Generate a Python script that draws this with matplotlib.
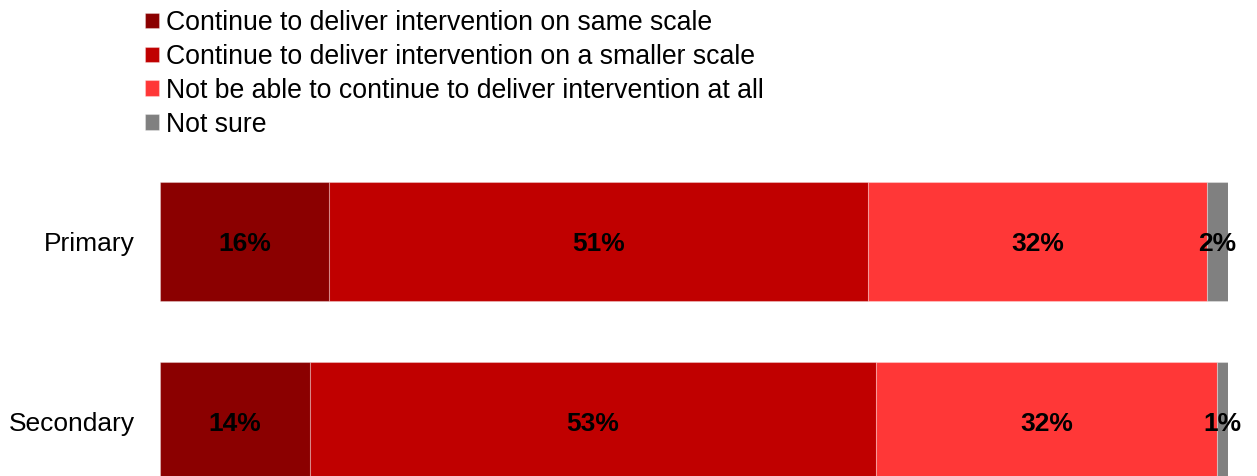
import numpy as np
import matplotlib.pyplot as plt

plt.rcParams['font.family'] = ['Liberation Sans', 'DejaVu Sans']

groups = ["Primary", "Secondary"]
answers = ["Continue to deliver intervention on same scale",
           "Continue to deliver intervention on a smaller scale",
           "Not be able to continue to deliver intervention at all",
           "Not sure"]
# percent of schools giving each answer
same_scale = [16, 14]
smaller_scale = [51, 53]
stop_entirely = [32, 32]
not_sure = [2, 1]
colours = ["#8B0000", "#C00000", "#FF3737", "#808080"]


def main():
	series = np.array([same_scale, smaller_scale, stop_entirely, not_sure], dtype=float)
	shares = series / series.sum(axis=0) * 100  # stack each bar to 100%

	fig = plt.figure(figsize=(12.57, 4.76), dpi=100)
	ax = fig.add_axes([0.1273, -0.0746, 0.8496, 0.7563])

	y = np.arange(len(groups))
	left = np.zeros(len(groups))
	for i in range(len(answers)):
		bars = ax.barh(y, shares[i], left=left, height=0.66, color=colours[i],
					   edgecolor=(1, 1, 1, 0.3), linewidth=0.8, label=answers[i])
		texts = ax.bar_label(bars, labels=["%d%%" % v for v in series[i]], label_type="center",
							 fontsize=19, fontweight="bold", color="black")
		for t in texts:
			t.xyann = (0, -1.5)  # nudge a little below centre
		left += shares[i]

	ax.set_xlim(0, 100)
	ax.set_ylim(1.5, -0.5)
	ax.set_yticks(y)
	ax.set_yticklabels(groups, fontsize=19)
	ax.tick_params(axis="y", length=0, pad=18)
	ax.set_xticks([])
	for s in ax.spines.values():
		s.set_visible(False)

	fig.legend(loc="upper left", bbox_to_anchor=(145 / 1257, 1 - 10 / 476), frameon=False,
			   fontsize=19.2, handlelength=0.53, handleheight=0.53, handletextpad=0.25,
			   labelspacing=0.295, borderpad=0, borderaxespad=0)

	fig.savefig("out.png", dpi=100)


if __name__ == '__main__':
	main()
